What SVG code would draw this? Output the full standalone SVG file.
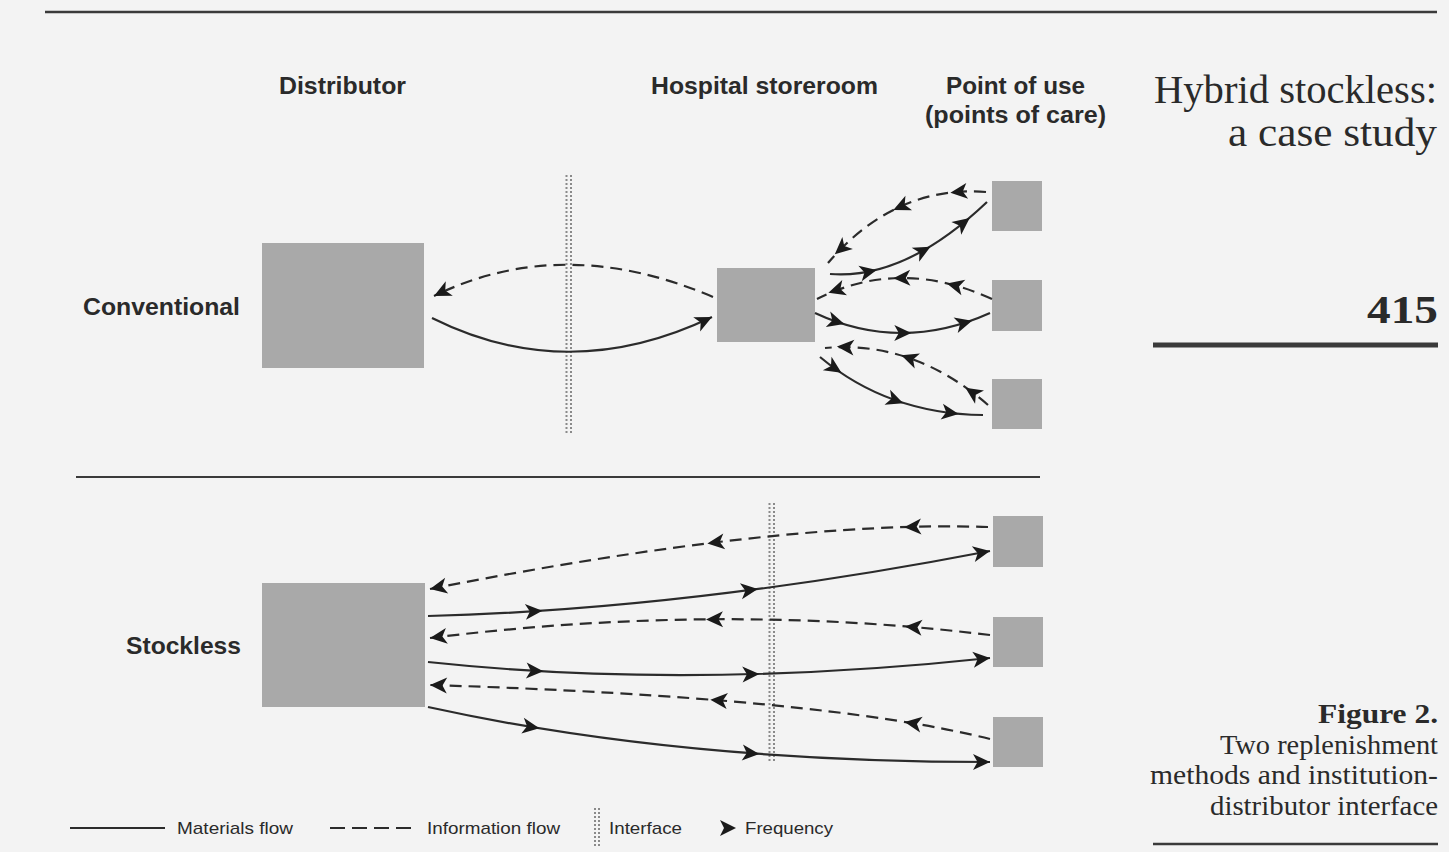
<svg xmlns="http://www.w3.org/2000/svg" width="1449" height="852" viewBox="0 0 1449 852">
<defs>
<style>
.box{fill:#a9a9a9}
.sans{font-family:"Liberation Sans",Arial,sans-serif;fill:#2a2a2a}
.hdr{font-size:23px;font-weight:bold}
.row{font-size:24px;font-weight:bold}
.leg{font-size:17px}
.serif{font-family:"Liberation Serif","Times New Roman",serif;fill:#2a2a2a;text-anchor:end}
.solid{fill:none;stroke:#2b2b2b;stroke-width:2.2}
.dash{fill:none;stroke:#2b2b2b;stroke-width:2.2;stroke-dasharray:12 7}
.carrier{fill:none;stroke:none;marker-mid:url(#fm)}
.iface{stroke:#8a8a8a;stroke-width:2;stroke-dasharray:2 2}
.rule{stroke:#3a3a3a;fill:none}
</style>
<marker id="fm" viewBox="-12 -12 24 24" markerWidth="24" markerHeight="24" markerUnits="userSpaceOnUse" refX="0" refY="0" orient="auto" overflow="visible">
<path d="M9,0 L-8,-8 L-3.5,0 L-8,8 Z" fill="#1a1a1a"/>
</marker>
<marker id="fe" viewBox="-18 -9 19 18" markerWidth="19" markerHeight="18" markerUnits="userSpaceOnUse" refX="0" refY="0" orient="auto" overflow="visible">
<path d="M0,0 L-17,-8 L-12.5,0 L-17,8 Z" fill="#1a1a1a"/>
</marker>
</defs>
<rect x="0" y="0" width="1449" height="852" fill="#f3f3f3"/>

<g id="rules">
<line class="rule" x1="45" y1="12" x2="1437" y2="12" stroke-width="2.5"/>
<line class="rule" x1="76" y1="477" x2="1040" y2="477" stroke-width="2"/>
<line class="rule" x1="1153" y1="345" x2="1438" y2="345" stroke-width="5"/>
<line class="rule" x1="1153" y1="844" x2="1438" y2="844" stroke-width="2.5"/>
</g>

<g id="headers" class="sans hdr">
<text x="279" y="94" textLength="127" lengthAdjust="spacingAndGlyphs">Distributor</text>
<text x="651" y="94" textLength="227" lengthAdjust="spacingAndGlyphs">Hospital storeroom</text>
<text x="946" y="94" textLength="139" lengthAdjust="spacingAndGlyphs">Point of use</text>
<text x="925" y="123" textLength="181" lengthAdjust="spacingAndGlyphs">(points of care)</text>
</g>

<g id="row-labels" class="sans row">
<text x="83" y="315" textLength="157" lengthAdjust="spacingAndGlyphs">Conventional</text>
<text x="126" y="654" textLength="115" lengthAdjust="spacingAndGlyphs">Stockless</text>
</g>

<g id="title" class="serif">
<text x="1437" y="103" font-size="40" textLength="283" lengthAdjust="spacingAndGlyphs">Hybrid stockless:</text>
<text x="1437" y="146" font-size="40" textLength="209" lengthAdjust="spacingAndGlyphs">a case study</text>
<text x="1438" y="323" font-size="40" font-weight="bold" textLength="71" lengthAdjust="spacingAndGlyphs">415</text>
</g>

<g id="caption" class="serif">
<text x="1438" y="723" font-size="28" font-weight="bold" textLength="120" lengthAdjust="spacingAndGlyphs">Figure 2.</text>
<text x="1438" y="754" font-size="28" textLength="218" lengthAdjust="spacingAndGlyphs">Two replenishment</text>
<text x="1438" y="784" font-size="28" textLength="288" lengthAdjust="spacingAndGlyphs">methods and institution-</text>
<text x="1438" y="815" font-size="28" textLength="228" lengthAdjust="spacingAndGlyphs">distributor interface</text>
</g>

<g id="interfaces">
<g id="interface-conventional">
<line class="iface" x1="566.5" y1="175" x2="566.5" y2="433"/>
<line class="iface" x1="571" y1="175" x2="571" y2="433"/>
</g>
<g id="interface-stockless">
<line class="iface" x1="769.5" y1="503" x2="769.5" y2="763"/>
<line class="iface" x1="774" y1="503" x2="774" y2="763"/>
</g>
</g>

<g id="conv-distributor"><rect class="box" x="262" y="243" width="162" height="125"/></g>
<g id="conv-storeroom"><rect class="box" x="717" y="268" width="98" height="74"/></g>
<g id="conv-point-1"><rect class="box" x="992" y="181" width="50" height="50"/></g>
<g id="conv-point-2"><rect class="box" x="992" y="280" width="50" height="51"/></g>
<g id="conv-point-3"><rect class="box" x="992" y="379" width="50" height="50"/></g>

<g id="stockless-distributor"><rect class="box" x="262" y="583" width="163" height="124"/></g>
<g id="stockless-point-1"><rect class="box" x="993" y="516" width="50" height="51"/></g>
<g id="stockless-point-2"><rect class="box" x="993" y="617" width="50" height="50"/></g>
<g id="stockless-point-3"><rect class="box" x="993" y="717" width="50" height="50"/></g>

<g id="connectors">
<path class="dash" d="M713,297 Q563,233 434,296" marker-end="url(#fe)"/>
<path class="solid" d="M432,318 Q568,386 712,317" marker-end="url(#fe)"/>

<path class="dash" d="M986,192 Q895,185 828,263"/>
<path class="carrier" d="M986,192 L959.3,191.8 L901.5,206.3 L841.6,248.3 L828,263"/>

<path class="solid" d="M830,274 Q905,280 987,202"/>
<path class="carrier" d="M830,274 L867.9,271.8 L922.5,251 L962.6,223.5 L987,202"/>

<path class="dash" d="M992,299 Q900,257 817,299"/>
<path class="carrier" d="M992,299 L955.6,285.6 L902.3,278 L837,290.1 L817,299"/>

<path class="solid" d="M815,313 Q901,353 990,313"/>
<path class="carrier" d="M815,313 L835.7,321.5 L902.3,333 L963.4,323.2 L990,313"/>

<path class="dash" d="M988,405 Q913,340 825,348"/>
<path class="carrier" d="M988,405 L972.9,392.7 L909.8,358.3 L845.9,347.1 L825,348"/>

<path class="solid" d="M820,357 Q888,414 983,415"/>
<path class="carrier" d="M820,357 L833.9,367.8 L894.8,400 L949.7,412.8 L983,415"/>

<path class="dash" d="M988,527 Q780,520 430,589" marker-end="url(#fe)"/>
<path class="carrier" d="M988,527 L913.2,526.8 L716.3,542.3 L430,589"/>

<path class="solid" d="M428,616 Q687,609.5 990,551" marker-end="url(#fe)"/>
<path class="carrier" d="M428,616 L533.4,611.3 L748.9,590.2 L990,551"/>

<path class="dash" d="M990,635 Q720,602 430,638" marker-end="url(#fe)"/>
<path class="carrier" d="M990,635 L914,627.1 L715,619.3 L430,638"/>

<path class="solid" d="M428,662 Q690,690 990,658" marker-end="url(#fe)"/>
<path class="carrier" d="M428,662 L534.3,670.8 L750.4,674.2 L990,658"/>

<path class="dash" d="M990,739 Q821,697 430,685" marker-end="url(#fe)"/>
<path class="carrier" d="M990,739 L913.5,723.4 L719.3,700.4 L430,685"/>

<path class="solid" d="M428,707 Q678,762 990,762" marker-end="url(#fe)"/>
<path class="carrier" d="M428,707 L530.5,726.8 L750.3,753.2 L990,762"/>
</g>

<g id="legend">
<line class="solid" x1="70" y1="828" x2="165" y2="828"/>
<text class="sans leg" x="177" y="834" textLength="116" lengthAdjust="spacingAndGlyphs">Materials flow</text>
<line class="solid" x1="330" y1="828" x2="415" y2="828" stroke-dasharray="15 7"/>
<text class="sans leg" x="427" y="834" textLength="133" lengthAdjust="spacingAndGlyphs">Information flow</text>
<line class="iface" x1="595" y1="808" x2="595" y2="848"/>
<line class="iface" x1="599" y1="808" x2="599" y2="848"/>
<text class="sans leg" x="609" y="834" textLength="73" lengthAdjust="spacingAndGlyphs">Interface</text>
<path d="M736,828 L720,820 L724,828 L720,836 Z" fill="#1a1a1a"/>
<text class="sans leg" x="745" y="834" textLength="88" lengthAdjust="spacingAndGlyphs">Frequency</text>
</g>
</svg>
